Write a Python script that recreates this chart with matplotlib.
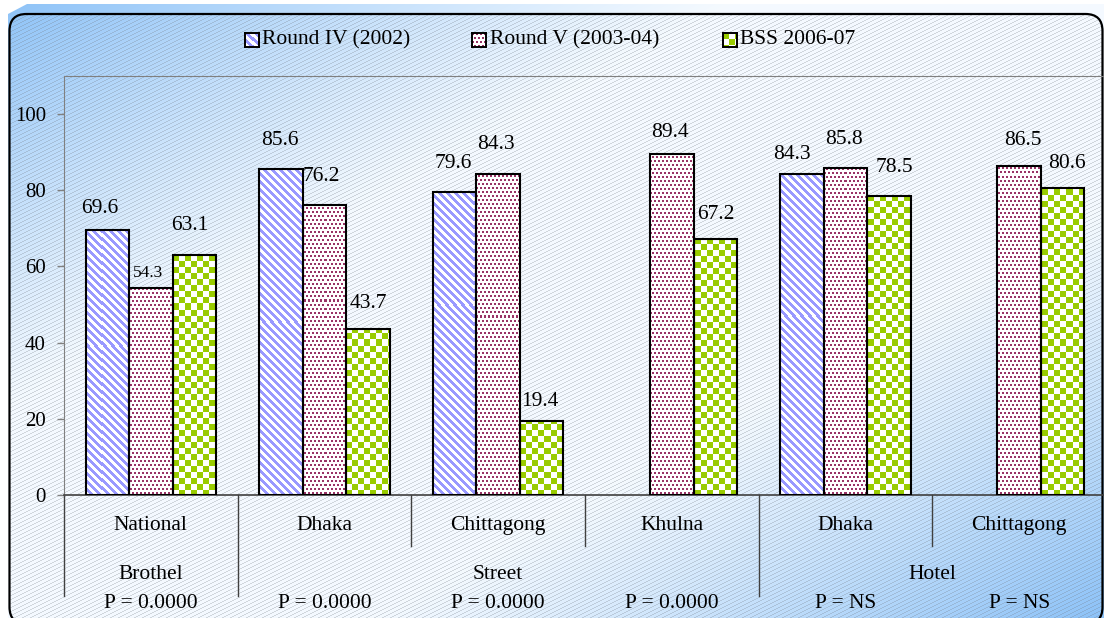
import numpy as np
import matplotlib
matplotlib.use('Agg')
import matplotlib.pyplot as plt
from matplotlib.patches import FancyBboxPatch, Polygon
from matplotlib.transforms import IdentityTransform, blended_transform_factory

plt.rcParams['font.family'] = ['Liberation Serif', 'DejaVu Serif']

groups = ['National', 'Dhaka', 'Chittagong', 'Khulna', 'Dhaka', 'Chittagong']
settings = ['Brothel', 'Street', 'Hotel']
setting_sizes = [1, 3, 2]
p_values = ['P = 0.0000', 'P = 0.0000', 'P = 0.0000', 'P = 0.0000', 'P = NS', 'P = NS']
series_names = ['Round IV (2002)', 'Round V (2003-04)', 'BSS 2006-07']
round_iv = [69.6, 85.6, 79.6, np.nan, 84.3, np.nan]
round_v = [54.3, 76.2, 84.3, 89.4, 85.8, 86.5]
bss = [63.1, 43.7, 19.4, 67.2, 78.5, 80.6]
y_ticks = [0, 20, 40, 60, 80, 100]

# hand placement of the value labels, pixels (dx, dy above the bar top)
nudges = [
    [(-8, 19), (-1, 26), (-1.5, 26), None, (-10.5, 17), None],
    [(-2.5, 13), (-3, 26), (-2, 27), (-2, 20), (-2, 27), (3.5, 23)],
    [(-4, 27), (0, 23), (-1.5, 18), (1, 23), (6, 26), (4, 22)],
]

W, H = 1104, 618
fig = plt.figure(figsize=(W / 100, H / 100), dpi=100)

# ---- background: diagonal blue-white-blue gradient with thin hatch lines
yy, xx = np.mgrid[0:H, 0:W]
t = (xx / W + yy / H) / 2
s = np.abs(2 * t - 1)
w = (np.clip((s - 0.33) / 0.67, 0, 1) ** 1.1)[..., None]
blue = np.array([0.55, 0.76, 0.97])
white = np.array([0.96, 0.98, 1.0])
bg = white * (1 - w) + blue * w
hatch = (((xx + 2 * yy) % 8) < 2)[..., None]
lined = np.where(hatch, bg * 0.72 + np.array([0.45, 0.48, 0.52]) * 0.28, bg)

outer = Polygon([(8, 604), (27, 614), (W, 614), (W, 0), (8, 0)],
                transform=IdentityTransform())
im0 = fig.figimage(bg, xo=0, yo=0, origin='upper', zorder=-3)
im0.set_clip_path(outer)

frame = FancyBboxPatch((9.5, -6), 1093, 610,
                       boxstyle='round,pad=0,rounding_size=17',
                       transform=IdentityTransform(),
                       facecolor='none', edgecolor='black', linewidth=1.6, zorder=-1)
im1 = fig.figimage(lined, xo=0, yo=0, origin='upper', zorder=-2)
im1.set_clip_path(frame)
fig.add_artist(frame)

# ---- plot area
AX_L, AX_T, AX_W, AX_H = 64, 76, 1042, 419
ax = fig.add_axes([AX_L / W, (H - AX_T - AX_H) / H, AX_W / W, AX_H / H])
ax.patch.set_visible(False)

py, px = np.mgrid[0:AX_H, 0:AX_W]


def pattern(mask, color):
    img = np.ones((AX_H, AX_W, 3))
    img[mask] = matplotlib.colors.to_rgb(color)
    return img


patterns = [
    pattern(((px - py) % 8) < 4, '#9999ff'),
    pattern((py % 4 < 2) & ((px + 2 * ((py // 4) % 2)) % 4 < 2), '#993366'),
    pattern(((px // 6 + py // 6) % 2) == 0, '#99cc00'),
]

xlim = (-0.5, len(groups) - 0.5)
ylim = (0, 110)
width = 0.25
offsets = [-0.25, 0, 0.25]
series = [round_iv, round_v, bss]

for k, vals in enumerate(series):
    vals = np.array(vals, dtype=float)
    ok = ~np.isnan(vals)
    xs = np.arange(len(groups))[ok] + offsets[k]
    bars = ax.bar(xs, vals[ok], width, color='white', edgecolor='none', zorder=1)
    for rect in bars:
        im = ax.imshow(patterns[k], extent=(*xlim, *ylim), aspect='auto',
                       interpolation='nearest', zorder=2)
        im.set_clip_path(rect)
    ax.bar(xs, vals[ok], width, fill=False, edgecolor='black', linewidth=1.5, zorder=3)
    for i in np.where(ok)[0]:
        dx, dy = nudges[k][i]
        ax.annotate(f'{vals[i]:.1f}', xy=(i + offsets[k], vals[i]),
                    xytext=(dx, dy + 2), textcoords='offset pixels',
                    ha='center', va='center',
                    fontsize=12.5 if vals[i] == 54.3 else 15.5, zorder=4)

ax.set_xlim(*xlim)
ax.set_ylim(*ylim)
ax.set_yticks(y_ticks)
ax.set_xticks([])
for sp in ['top', 'right', 'left']:
    ax.spines[sp].set_color('#808080')
ax.spines['bottom'].set_color('#404040')
ax.spines['bottom'].set_linewidth(1.2)
ax.tick_params(axis='y', direction='out', length=5, width=1, color='#808080',
               labelsize=15, pad=8)

# ---- two-level category axis
trans = blended_transform_factory(ax.transData, ax.transAxes)
outer_edges = np.cumsum([0] + setting_sizes)
for b in range(len(groups)):
    y_end = -0.24 if b in outer_edges else -0.122
    ax.plot([b - 0.5, b - 0.5], [0, y_end], transform=trans, color='#404040',
            lw=1, clip_on=False)

for i, name in enumerate(groups):
    ax.text(i, -0.072, name, transform=trans, ha='center', va='center', fontsize=15.5)
    ax.text(i, -0.26, p_values[i], transform=trans, ha='center', va='center', fontsize=15.5)
for j, name in enumerate(settings):
    mid = (outer_edges[j] + outer_edges[j + 1]) / 2 - 0.5
    ax.text(mid, -0.19, name, transform=trans, ha='center', va='center', fontsize=15.5)

# ---- legend (pattern swatches + text)
swatch_x = [245, 472, 723]
text_x = [262, 490, 740]
for k, name in enumerate(series_names):
    sax = fig.add_axes([swatch_x[k] / W, (H - 47) / H, 14 / W, 14 / H])
    sax.imshow(patterns[k][:14, :14], interpolation='nearest', aspect='auto')
    sax.set_xticks([])
    sax.set_yticks([])
    for sp in sax.spines.values():
        sp.set_linewidth(1.4)
    fig.text(text_x[k] / W, (H - 40) / H, name, ha='left', va='center', fontsize=15.5)

fig.savefig('out.png', dpi=100)
